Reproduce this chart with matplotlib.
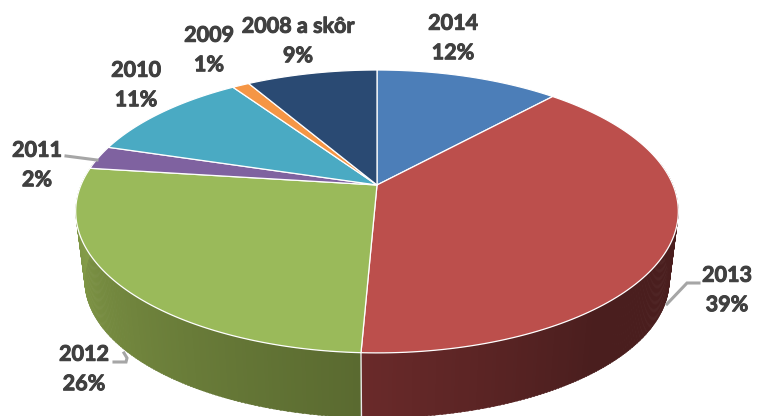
import numpy as np
import matplotlib
matplotlib.use("Agg")
import matplotlib.pyplot as plt
import matplotlib.patheffects as pe

# data
years = ["2014", "2013", "2012", "2011", "2010", "2009", "2008 a skôr"]
shares = [11.8, 38.9, 26.3, 2.7, 10.8, 1.1, 8.4]
pct_labels = ["12%", "39%", "26%", "2%", "11%", "1%", "9%"]

# styles
top_colors = ["#4c7eb8", "#bc4f4c", "#9aba5a", "#7f62a0", "#4aaac3", "#f59645", "#2a4a73"]
side_near = ["#3a5f8a", "#4a1e1e", "#5a6a30", "#5f4a78", "#37808f", "#b86f30", "#1f3755"]
side_far = ["#3a5f8a", "#6a2a2a", "#8aa34c", "#5f4a78", "#37808f", "#b86f30", "#1f3755"]
label_pos = [(453, 38), (727, 290), (84, 369), (37, 165), (136, 85), (209, 50), (298, 41)]
text_col = "#404040"

# pie geometry in pixels
cx, cy = 377, 185
a, b, k = 296, 136.5, -0.187
depth = 70
shrink = 0.97


def project(theta, r=1.0, down=0.0, s=1.0):
    u = r * np.sin(theta)
    v = r * np.cos(theta)
    w = 1 - k * v
    return cx + s * a * u / w, cy - s * b * v / w + down


fig = plt.figure(figsize=(7.57, 4.16), dpi=100)
ax = fig.add_axes([0, 0, 1, 1])
ax.set_xlim(0, 757)
ax.set_ylim(416, 0)
ax.axis("off")

edges = np.cumsum([0] + shares) / sum(shares) * 2 * np.pi

# side wall, a lot of thin slices so the shading looks smooth
for i in range(len(shares)):
    t0, t1 = edges[i], edges[i + 1]
    lo, hi = max(t0, np.radians(80)), min(t1, np.radians(280))
    if hi <= lo:
        continue
    steps = np.linspace(lo, hi, int((hi - lo) * 90) + 2)
    c0 = np.array(matplotlib.colors.to_rgb(side_near[i]))
    c1 = np.array(matplotlib.colors.to_rgb(side_far[i]))
    for s0, s1 in zip(steps[:-1], steps[1:]):
        # darkest/lightest depends on how far round from the bottom
        f = (s0 - t0) / (t1 - t0)
        if i == 1:
            col = c0 + (c1 - c0) * max(0, (f - 0.7) / 0.3)
        else:
            col = c0 + (c1 - c0) * f
        ang = np.array([s0, s1 + 0.004])
        x_top, y_top = project(ang)
        x_bot, y_bot = project(ang, down=depth, s=shrink)
        ax.fill(np.r_[x_top, x_bot[::-1]], np.r_[y_top, y_bot[::-1]],
                color=col, lw=0.3, zorder=1)

# line between red and green on the wall
x_top, y_top = project(np.array([edges[2]]))
x_bot, y_bot = project(np.array([edges[2]]), down=depth, s=shrink)
ax.plot([x_top[0], x_bot[0]], [y_top[0], y_bot[0]], color="#e8e8e8", lw=1, zorder=2)

# top face
for i in range(len(shares)):
    ang = np.linspace(edges[i], edges[i + 1], 120)
    x, y = project(ang)
    ax.fill(np.r_[cx, x], np.r_[cy, y], facecolor=top_colors[i],
            edgecolor="white", lw=0.9, joinstyle="round", zorder=3)

# leader lines
line_kw = dict(color="#a6a6a6", lw=2.2, zorder=4, solid_joinstyle="miter")
ax.plot([66, 97], [156, 160], **line_kw)
ax.plot([114, 126, 127, 124], [362, 362, 358, 353], **line_kw)
ax.plot([667, 687, 699], [304, 283, 283], **line_kw)

for name, pct, (lx, ly) in zip(years, pct_labels, label_pos):
    ax.text(lx, ly, name + "\n" + pct, ha="center", va="center", fontsize=15.5,
            fontweight="bold", family="Lato", color=text_col, linespacing=1.5,
            zorder=5, path_effects=[pe.withStroke(linewidth=0.7, foreground=text_col)])

fig.savefig("out.png", dpi=100)
